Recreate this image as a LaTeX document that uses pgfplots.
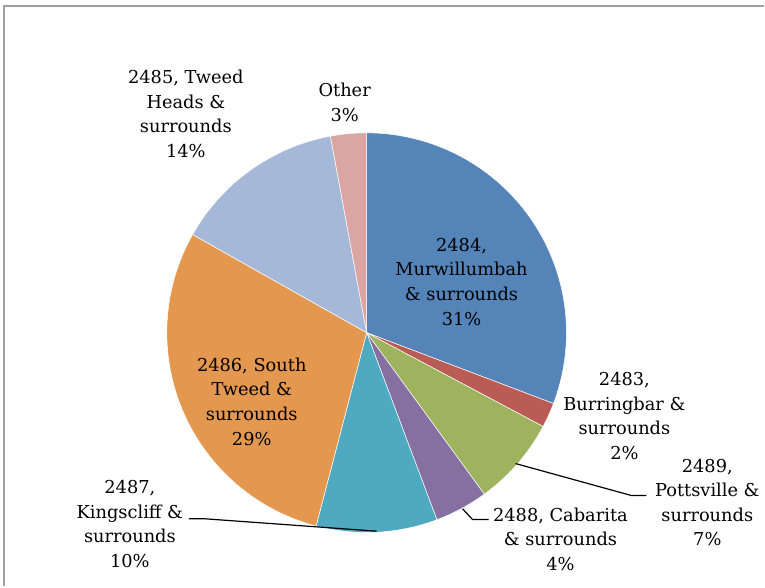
\documentclass[border=0pt]{standalone}
\usepackage{pgfplots}
\pgfplotsset{compat=1.18}
\usepackage{fontspec}
\setmainfont{DejaVu Serif}
\definecolor{cBlue}{HTML}{5584B8}
\definecolor{cRed}{HTML}{BB5B56}
\definecolor{cGreen}{HTML}{9DB35D}
\definecolor{cPurple}{HTML}{8670A1}
\definecolor{cTeal}{HTML}{4FA9C0}
\definecolor{cOrange}{HTML}{E3974F}
\definecolor{cLBlue}{HTML}{A6B8D8}
\definecolor{cPink}{HTML}{DAA6A4}
\definecolor{cFrame}{HTML}{A0A0A0}
\newcommand\slice[3]{\addplot[fill=#1,draw=white,line width=0.5pt,domain=#3:#2,samples=90] ({367+200*cos(x)},{254+200*sin(x)}) -- (367,254) -- cycle;}
\begin{document}
\begin{tikzpicture}
% shares in percent, clockwise from 12 o'clock
\def\sA{30.77}% 2484 Murwillumbah
\def\sB{2.01}% 2483 Burringbar
\def\sC{7.20}% 2489 Pottsville
\def\sD{4.30}% 2488 Cabarita
\def\sE{9.79}% 2487 Kingscliff
\def\sF{29.10}% 2486 South Tweed
\def\sG{13.93}% 2485 Tweed Heads
\def\sH{2.90}% Other
\pgfmathsetmacro\bO{90}
\pgfmathsetmacro\bA{\bO-3.6*\sA}
\pgfmathsetmacro\bB{\bA-3.6*\sB}
\pgfmathsetmacro\bC{\bB-3.6*\sC}
\pgfmathsetmacro\bD{\bC-3.6*\sD}
\pgfmathsetmacro\bE{\bD-3.6*\sE}
\pgfmathsetmacro\bF{\bE-3.6*\sF}
\pgfmathsetmacro\bG{\bF-3.6*\sG}
\pgfmathsetmacro\bH{\bG-3.6*\sH}
\begin{axis}[width=765pt,height=587pt,scale only axis,xmin=0,xmax=765,ymin=0,ymax=587,hide axis,clip=false]
\addplot[fill=white,draw=none] coordinates {(0,0)(765,0)(765,587)(0,587)} -- cycle;
\addplot[draw=cFrame,line width=1.5pt] coordinates {(4,0)(4,581)(765,581)};
\slice{cBlue}{\bO}{\bA}
\slice{cRed}{\bA}{\bB}
\slice{cGreen}{\bB}{\bC}
\slice{cPurple}{\bC}{\bD}
\slice{cTeal}{\bD}{\bE}
\slice{cOrange}{\bE}{\bF}
\slice{cLBlue}{\bF}{\bG}
\slice{cPink}{\bG}{\bH}
% leader lines
\addplot[draw=black,line width=1.2pt] coordinates {(189,67.7)(205,67.7)(377,55.3)};
\addplot[draw=black,line width=1.2pt] coordinates {(463,77.7)(473,67)(489,67)};
\addplot[draw=black,line width=1.2pt] coordinates {(516,123)(632,91)(647,91)};
% labels
\tikzset{lbl/.style={align=center,font=\fontsize{17.8}{24.6}\selectfont,inner sep=0pt}}
\node[lbl] at (345,484.5) {Other\\3\%};
\node[lbl] at (186,473) {2485, Tweed\\Heads \&\\surrounds\\14\%};
\node[lbl] at (462,305) {2484,\\Murwillumbah\\\& surrounds\\31\%};
\node[lbl] at (252,185) {2486, South\\Tweed \&\\surrounds\\29\%};
\node[lbl] at (625,170.5) {2483,\\Burringbar \&\\surrounds\\2\%};
\node[lbl] at (708,84) {2489,\\Pottsville \&\\surrounds\\7\%};
\node[lbl] at (561,47.5) {2488, Cabarita\\\& surrounds\\4\%};
\node[lbl] at (130,62.5) {2487,\\Kingscliff \&\\surrounds\\10\%};
\end{axis}
\end{tikzpicture}
\end{document}
